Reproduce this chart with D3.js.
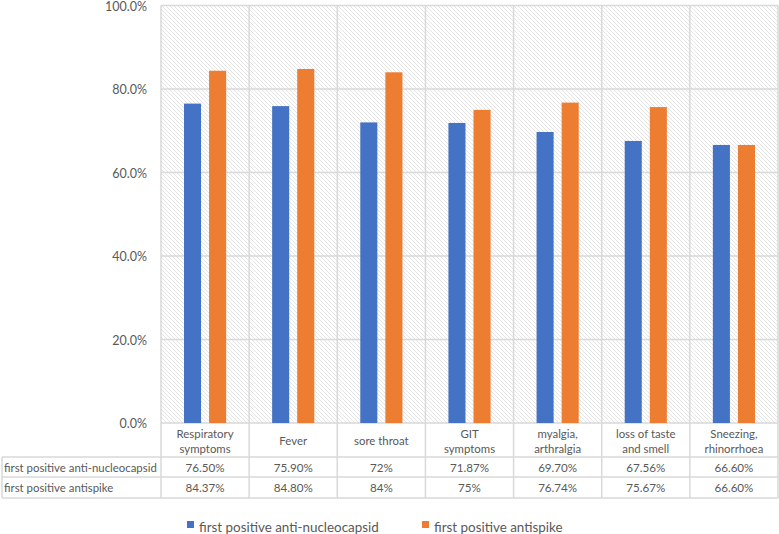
<!DOCTYPE html>
<html>
<head>
<meta charset="utf-8">
<script src="https://cdn.jsdelivr.net/npm/d3@7"></script>
<style>
  body { margin: 0; background: #fff; }
  svg { display: block; font-family: Lato, "Open Sans", sans-serif; }
</style>
</head>
<body>
<svg id="chart" width="779" height="534"></svg>
<script>
// Symptom categories (two-line labels)
const categories = [
  ["Respiratory", "symptoms"],
  ["Fever"],
  ["sore throat"],
  ["GIT", "symptoms"],
  ["myalgia,", "arthralgia"],
  ["loss of taste", "and smell"],
  ["Sneezing,", "rhinorrhoea"]
];
const seriesNames = ["first positive anti-nucleocapsid", "first positive antispike"];
const nucleocapsid = [0.765, 0.759, 0.72, 0.7187, 0.697, 0.6756, 0.666];
const antispike = [0.8437, 0.848, 0.84, 0.75, 0.7674, 0.7567, 0.666];
const nucleocapsidLabels = ["76.50%", "75.90%", "72%", "71.87%", "69.70%", "67.56%", "66.60%"];
const antispikeLabels = ["84.37%", "84.80%", "84%", "75%", "76.74%", "75.67%", "66.60%"];
const yTicks = [0, 0.2, 0.4, 0.6, 0.8, 1.0];
const colors = ["#4472c4", "#ed7d31"];

const svg = d3.select("#chart");
const plotLeft = 161, plotRight = 778, plotTop = 5.5, plotBottom = 423;
const gridColor = "#d9d9d9", textColor = "#595959";

// pick a font size so that a sample string has the wanted width
function fitSize(sample, width) {
  const t = svg.append("text").style("font-size", "20px").text(sample);
  const w = t.node().getComputedTextLength();
  t.remove();
  return 20 * width / w;
}
const rowLabelSize = fitSize(seriesNames[0], 153);
const valueSize = fitSize("76.50%", 39);
const catSize = fitSize("Respiratory", 57);
const legendSize = fitSize(seriesNames[0], 180);
const axisSize = fitSize("100.0%", 42);

const x = d3.scaleBand()
    .domain(d3.range(categories.length))
    .range([plotLeft, plotRight])
    .paddingInner(0).paddingOuter(0);

const xs = d3.scaleBand()
    .domain([0, 1])
    .range([23, x.bandwidth() - 23])
    .paddingInner(0.32);

const y = d3.scaleLinear().domain([0, 1]).range([plotBottom, plotTop]);

// hatch pattern for plot area
const defs = svg.append("defs");
const pat = defs.append("pattern")
    .attr("id", "hatch")
    .attr("patternUnits", "userSpaceOnUse")
    .attr("width", 4).attr("height", 4);
pat.append("rect").attr("width", 4).attr("height", 4).attr("fill", "#fff");
pat.append("path")
    .attr("d", "M-1,-1 L5,5 M-1,3 L1,5 M3,-1 L5,1")
    .attr("stroke", "#d9d9d9")
    .attr("stroke-width", 0.7);

svg.append("rect")
    .attr("x", plotLeft).attr("y", plotTop)
    .attr("width", plotRight - plotLeft).attr("height", plotBottom - plotTop)
    .attr("fill", "url(#hatch)");

// horizontal grid
svg.append("g")
  .selectAll("line")
  .data(yTicks)
  .join("line")
    .attr("x1", plotLeft).attr("x2", plotRight)
    .attr("y1", d => y(d)).attr("y2", d => y(d))
    .attr("stroke", gridColor).attr("stroke-width", 1.5);

// vertical lines through plot and table
const tableBottom = 498;
svg.append("g")
  .selectAll("line")
  .data(d3.range(categories.length + 1))
  .join("line")
    .attr("x1", d => plotLeft + d * x.step()).attr("x2", d => plotLeft + d * x.step())
    .attr("y1", plotTop).attr("y2", tableBottom)
    .attr("stroke", gridColor).attr("stroke-width", 1.5);

// y axis labels
const yAxis = svg.append("g")
    .attr("transform", `translate(${plotLeft - 14},0)`)
    .call(d3.axisLeft(y).tickValues(yTicks).tickFormat(d3.format(".1%")).tickSize(0).tickPadding(0));
yAxis.select(".domain").remove();
yAxis.selectAll("text")
    .attr("fill", textColor)
    .attr("dy", "0.38em")
    .style("font-size", axisSize + "px")
    .style("font-family", "Lato, 'Open Sans', sans-serif");

// bars
const series = [nucleocapsid, antispike];
svg.append("g")
  .selectAll("g")
  .data(series)
  .join("g")
    .attr("fill", (d, i) => colors[i])
  .selectAll("rect")
  .data((d, i) => d.map((v, j) => ({ v, j, i })))
  .join("rect")
    .attr("x", d => x(d.j) + xs(d.i))
    .attr("width", xs.bandwidth())
    .attr("y", d => y(d.v))
    .attr("height", d => y(0) - y(d.v));

// data table
const row0 = 423, row1 = 457, row2 = 477;
const tableLeft = 2;
const tg = svg.append("g").attr("fill", textColor);

[row1, row2, tableBottom].forEach(ry => {
  tg.append("line")
      .attr("x1", tableLeft).attr("x2", plotRight)
      .attr("y1", ry).attr("y2", ry)
      .attr("stroke", gridColor).attr("stroke-width", 1.5);
});
tg.append("line")
    .attr("x1", tableLeft).attr("x2", tableLeft)
    .attr("y1", row1).attr("y2", tableBottom)
    .attr("stroke", gridColor).attr("stroke-width", 1.5);

// category labels
tg.selectAll("text.cat")
  .data(categories)
  .join("text")
    .attr("class", "cat")
    .style("font-size", catSize + "px")
    .attr("text-anchor", "middle")
    .attr("x", (d, i) => x(i) + x.bandwidth() / 2)
    .attr("y", d => d.length === 1 ? (row0 + row1) / 2 + 4.5 : row0 + 14.5)
  .selectAll("tspan")
  .data(d => d)
  .join("tspan")
    .attr("x", function() { return this.parentNode.getAttribute("x"); })
    .attr("dy", (d, i) => i === 0 ? 0 : 15)
    .text(d => d);

// series rows
const rows = [
  { name: seriesNames[0], labels: nucleocapsidLabels, y0: row1, y1: row2 },
  { name: seriesNames[1], labels: antispikeLabels, y0: row2, y1: tableBottom }
];
rows.forEach(r => {
  const cy = (r.y0 + r.y1) / 2 + 4.5;
  tg.append("text").attr("x", tableLeft + 2).attr("y", cy)
      .style("font-size", rowLabelSize + "px").text(r.name);
  tg.selectAll(null)
    .data(r.labels)
    .join("text")
      .style("font-size", valueSize + "px")
      .attr("text-anchor", "middle")
      .attr("x", (d, i) => x(i) + x.bandwidth() / 2)
      .attr("y", cy)
      .text(d => d);
});

// legend
const legend = svg.append("g").style("font-size", legendSize + "px").attr("fill", textColor);
const legendX = [187, 422];
seriesNames.forEach((s, i) => {
  const lg = legend.append("g").attr("transform", `translate(${legendX[i]},527)`);
  lg.append("rect").attr("x", 0).attr("y", -6).attr("width", 7).attr("height", 7).attr("fill", colors[i]);
  lg.append("text").attr("x", 12).attr("y", 4.5).text(s);
});
</script>
</body>
</html>
